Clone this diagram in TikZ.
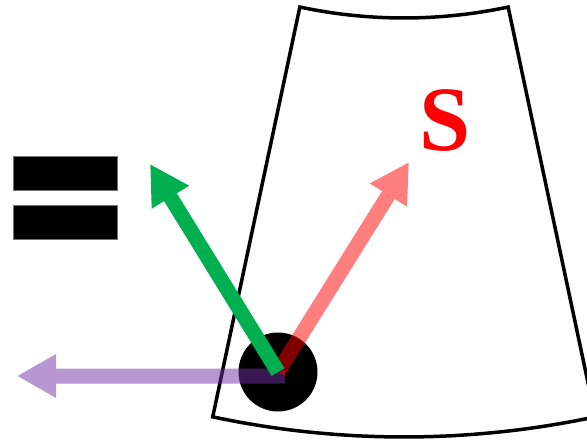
\documentclass[tikz,border=0pt]{standalone}
\usepackage{fontspec}
\newfontfamily\labelfont{Liberation Serif}[UprightFont={* Bold}]
\usetikzlibrary{arrows.meta}
\definecolor{vecGreen}{RGB}{0,176,80}
\definecolor{vecRed}{RGB}{255,0,0}
\definecolor{vecPurple}{RGB}{112,48,160}

\begin{document}
\begin{tikzpicture}[
  x=1pt,
  y=-1pt,
  frame/.style={draw=black, line width=3.5pt, line join=miter},
  vec/.style={line width=15pt, -{Triangle[length=39pt, width=41pt]}},
  bar/.style={fill=black, draw=black!55, line width=0.6pt},
  symLabel/.style={font=\labelfont\fontsize{92}{92}\selectfont, text=vecRed, inner sep=0pt, anchor=base}
]
  \useasboundingbox (0,0) rectangle (587,441);
  \def\rin{501}
  \def\rout{920}

  % annular sector around the apex (404,-483)
  \draw[frame] plot[domain=78:102, samples=41] ({404+\rin*cos(\x)},{-483+\rin*sin(\x)})
    -- plot[domain=102:78, samples=41] ({404+\rout*cos(\x)},{-483+\rout*sin(\x)}) -- cycle;

  \foreach \y in {156,205} {
    \path[bar] (13,\y) rectangle ++(104,34);
  }

  \node[circle, fill=black, minimum size=79pt, inner sep=0pt] (origin) at (278,372) {};
  \coordinate (purpleTail) at (285,376);
  \coordinate (purpleTip) at (17,376);
  \coordinate (redTip) at (409,162);
  \coordinate (greenTip) at (150,164);

  \begin{scope}[transparency group, opacity=0.5]
    \draw[vec, draw=vecPurple, fill=vecPurple] (purpleTail) -- (purpleTip);
  \end{scope}
  \begin{scope}[transparency group, opacity=0.5]
    \draw[vec, draw=vecRed, fill=vecRed] (origin.center) -- (redTip);
  \end{scope}
  \draw[vec, draw=vecGreen, fill=vecGreen] (origin.center) -- (greenTip);

  \node[symLabel] (sLabel) at (445,151) {S};
\end{tikzpicture}
\end{document}
